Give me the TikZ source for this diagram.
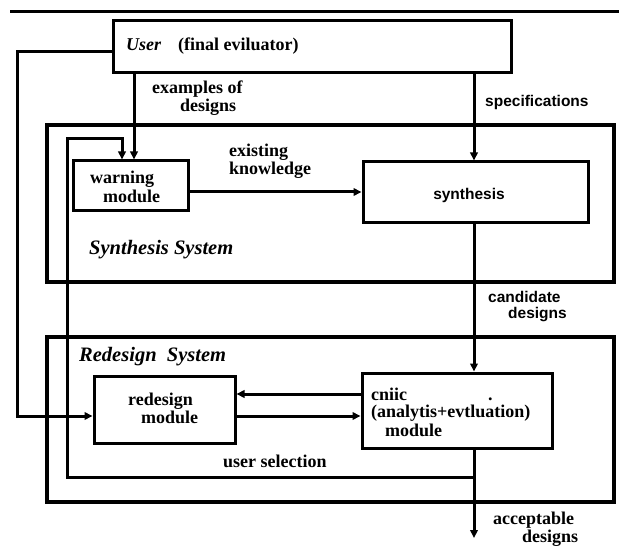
\documentclass[tikz,border=0pt]{standalone}
\usepackage{fontspec}
\setmainfont{Liberation Serif}
\setsansfont{Liberation Sans}
\usetikzlibrary{arrows.meta}
\begin{document}
\begin{tikzpicture}[x=1pt,y=-1pt,
  box/.style={draw, line width=3pt, inner sep=0, fill=none},
  conn/.style={line width=3pt},
  arr/.style={conn, -{Triangle[length=8pt,width=7.5pt]}},
  lbl/.style={font=\fontsize{18}{18}\selectfont\bfseries, inner sep=0, anchor=base west},
  slbl/.style={font=\fontsize{15.5}{15.5}\selectfont\sffamily\bfseries, inner sep=0, anchor=base west},
  ilbl/.style={font=\fontsize{20.5}{20.5}\selectfont\bfseries\itshape, inner sep=0, anchor=base west}]
\useasboundingbox (0,0) rectangle (619,548);
\fill[white] (0,0) rectangle (619,548);
% top rule
\draw[line width=3pt] (10,12) -- (619,12);
% boxes
\node[box, minimum width=398pt, minimum height=52pt] (user) at (312,47) {};
\node[box, line width=3.3pt, minimum width=567pt, minimum height=157pt] (synsys) at (330.5,203.5) {};
\node[box, line width=3.3pt, minimum width=567pt, minimum height=165pt] (redsys) at (330.5,419.5) {};
\node[box, minimum width=115pt, minimum height=50pt] (warn) at (130.5,186) {};
\node[box, minimum width=225pt, minimum height=61pt] (synth) at (475.5,192.5) {};
\node[box, minimum width=141pt, minimum height=67pt] (redmod) at (164.5,409.5) {};
\node[box, minimum width=190pt, minimum height=75pt] (critic) at (457,410.5) {};
% texts
\node[ilbl, font=\fontsize{18}{18}\selectfont\bfseries\itshape] (tuser) at (126,51) {User};
\node[lbl] (tfinal) at (178,51) {(final eviluator)};
\node[lbl] (tex1) at (152,94) {examples of};
\node[lbl] (tex2) at (180,112) {designs};
\node[slbl] (tspec) at (485,107) {specifications};
\node[lbl] (texi1) at (229,157) {existing};
\node[lbl] (texi2) at (229,175) {knowledge};
\node[lbl] (tw1) at (90,184) {warning};
\node[lbl] (tw2) at (103,203) {module};
\node[slbl, anchor=base] (tsyn) at (469,200) {synthesis};
\node[ilbl] (tsynsys) at (89,255) {Synthesis System};
\node[slbl] (tcand1) at (488,303) {candidate};
\node[slbl] (tcand2) at (508,319) {designs};
\node[ilbl] (tredsys) at (79,361) {Redesign\ \ System};
\node[lbl] (tr1) at (128,405) {redesign};
\node[lbl] (tr2) at (141,423) {module};
\node[lbl] (tc1) at (371,400) {cniic};
\node[lbl] (tcdot) at (488,400) {.};
\node[lbl] (tc2) at (371,417) {(analytis+evtluation)};
\node[lbl] (tc3) at (385,436) {module};
\node[lbl] (tsel) at (223,467) {user selection};
\node[lbl] (tacc1) at (493,524) {acceptable};
\node[lbl] (tacc2) at (522,542) {designs};
% connector coordinates
\coordinate (sel) at (474,477);
\coordinate (out) at (474,538);
% connectors
\draw[arr] (134,0 |- user.south) -- (134,0 |- warn.north);
\draw[arr] (474,0 |- user.south) -- (474,0 |- synth.north);
\draw[arr] (warn.east |- 0,192) -- (synth.west |- 0,192);
\draw[arr] (474,0 |- synth.south) -- (474,0 |- critic.north);
\draw[arr] (critic.west |- 0,394) -- (redmod.east |- 0,394);
\draw[arr] (redmod.east |- 0,416) -- (critic.west |- 0,416);
\draw[arr] (474,0 |- critic.south) -- (out);
\draw[arr] (sel) -- (67,477) -- (67,139) -- (122,139) -- (122,0 |- warn.north);
\draw[arr] (user.west |- 0,52) -- (17,52) -- (17,416) -- (redmod.west |- 0,416);
\end{tikzpicture}
\end{document}
